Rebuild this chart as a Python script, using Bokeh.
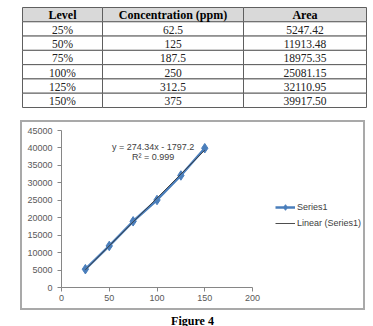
from bokeh.plotting import figure
from bokeh.models import Range1d, FixedTicker, Legend, LegendItem, Label, Spacer
from bokeh.layouts import column, row
from bokeh.embed import file_html
from bokeh.resources import INLINE
from bokeh.core.properties import value

# ---- table data ----
header = ["Level", "Concentration (ppm)", "Area"]
levels = ["25%", "50%", "75%", "100%", "125%", "150%"]
concentrations = ["62.5", "125", "187.5", "250", "312.5", "375"]
areas = ["5247.42", "11913.48", "18975.35", "25081.15", "32110.95", "39917.50"]

# ---- chart data ----
level_pct = [25, 50, 75, 100, 125, 150]
area_vals = [5247.42, 11913.48, 18975.35, 25081.15, 32110.95, 39917.50]
x_ticks = [0, 50, 100, 150, 200]
y_ticks = [0, 5000, 10000, 15000, 20000, 25000, 30000, 35000, 40000, 45000]
slope, intercept = 274.34, -1797.2
eq_text = "y = 274.34x - 1797.2"
r2_text = "R\u00b2 = 0.999"
caption = "Figure 4"

SERIF = value("Liberation Serif")
FRAME_GRAY = "#a9a9a9"

# ---------------- table ----------------
COL_EDGES = [22, 102, 243, 366]
col_centers = [(COL_EDGES[i] + COL_EDGES[i + 1]) / 2 for i in range(3)]
n_rows = 1 + len(levels)

tf = figure(width=373, height=120, x_range=Range1d(0, 373), y_range=Range1d(7.91, -0.49),
            output_backend="svg", toolbar_location=None,
            x_axis_location=None, y_axis_location=None, min_border=0)
tf.grid.visible = False
tf.outline_line_color = None

lefts, rights, tops, bottoms, fills = [], [], [], [], []
for r in range(n_rows):
    for c in range(3):
        lefts.append(COL_EDGES[c]); rights.append(COL_EDGES[c + 1])
        tops.append(r); bottoms.append(r + 1)
        fills.append("#d9d9d9" if r == 0 else "white")
tf.quad(left=lefts, right=rights, top=tops, bottom=bottoms, fill_color=fills,
        line_color="#5f5f5f", line_width=1)

tf.text(x=col_centers, y=[0.55] * 3, text=header, text_font=SERIF, text_font_style="bold",
        text_font_size="12px", text_align="center", text_baseline="middle", text_color="black")
bx, by, bt = [], [], []
for i in range(len(levels)):
    for c, val in enumerate([levels[i], concentrations[i], areas[i]]):
        bx.append(col_centers[c]); by.append(i + 1.55); bt.append(val)
tf.text(x=bx, y=by, text=bt, text_font=SERIF, text_font_size="11.5px",
        text_align="center", text_baseline="middle", text_color="#222222")

# ---------------- chart ----------------
cf = figure(width=341, height=186, x_range=Range1d(0, 316.2), y_range=Range1d(0, 45000),
            output_backend="svg", toolbar_location=None,
            min_border_left=39, min_border_right=0, min_border_top=8, min_border_bottom=21)
cf.grid.visible = False
cf.outline_line_color = None

for ax in (cf.xaxis[0], cf.yaxis[0]):
    ax.axis_line_color = "#868686"
    ax.major_tick_line_color = "#868686"
    ax.minor_tick_line_color = None
    ax.major_tick_in = 0
    ax.major_tick_out = 4
    ax.major_label_text_font = "Liberation Sans"
    ax.major_label_text_font_size = "9px"
    ax.major_label_text_color = "#595959"
cf.xaxis.ticker = FixedTicker(ticks=x_ticks)
cf.yaxis.ticker = FixedTicker(ticks=y_ticks)
cf.xaxis.bounds = (x_ticks[0], x_ticks[-1])
cf.xaxis.major_label_standoff = 3
cf.yaxis.major_label_standoff = 5

BLUE = "#4a7ebb"
ln = cf.line(level_pct, area_vals, line_color=BLUE, line_width=2.5)
mk = cf.scatter(level_pct, area_vals, marker="diamond", size=9.5, fill_color=BLUE, line_color=BLUE)
trend_x = [level_pct[0], level_pct[-1]]
trend_y = [slope * v + intercept for v in trend_x]
tr = cf.line(trend_x, trend_y, line_color="#3a3a3a", line_width=0.9)

cf.add_layout(Label(x=96, y=40400, text=eq_text, text_align="center", text_baseline="middle",
                    text_font="Liberation Sans", text_font_size="9px", text_color="#404040"))
cf.add_layout(Label(x=96, y=37300, text=r2_text, text_align="center", text_baseline="middle",
                    text_font="Liberation Sans", text_font_size="9px", text_color="#404040"))

legend = Legend(items=[LegendItem(label="Series1", renderers=[ln, mk]),
                       LegendItem(label="Linear (Series1)", renderers=[tr])],
                location=(214, 57), padding=0, spacing=2, margin=0,
                glyph_width=20, glyph_height=14, label_height=14, label_standoff=2,
                label_text_font="Liberation Sans", label_text_font_size="9px",
                label_text_color="#404040", border_line_color=None, background_fill_alpha=0)
cf.add_layout(legend)

# chart frame (grey border made of thin spacers)
def bar(w, h):
    return Spacer(width=w, height=h, styles={"background-color": FRAME_GRAY})

chart_box = row(Spacer(width=20, height=190), bar(2, 190),
                column(bar(341, 2), cf, bar(341, 2)), bar(2, 190))

# ---------------- caption ----------------
cap = figure(width=373, height=16, x_range=Range1d(0, 373), y_range=Range1d(0, 16),
             output_backend="svg", toolbar_location=None,
             x_axis_location=None, y_axis_location=None, min_border=0)
cap.grid.visible = False
cap.outline_line_color = None
cap.text(x=[192], y=[6], text=[caption], text_font=SERIF, text_font_style="bold",
         text_font_size="12px", text_align="center", text_baseline="middle", text_color="black")

layout = column(tf, chart_box, cap)
open("out.html", "w").write(file_html(layout, INLINE))
